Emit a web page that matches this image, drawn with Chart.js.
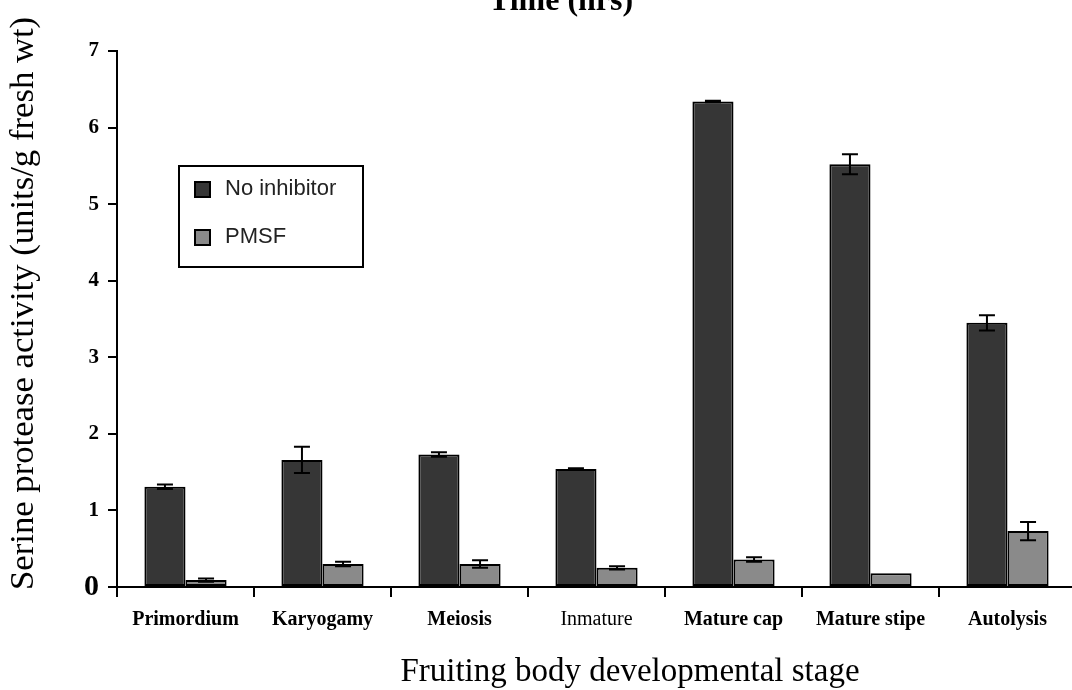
<!DOCTYPE html>
<html>
<head>
<meta charset="utf-8">
<script src="https://cdn.jsdelivr.net/npm/chart.js@4.4.0/dist/chart.umd.min.js"></script>
<style>
  html, body { margin: 0; padding: 0; background: #fff; overflow: hidden; }
  #wrap { width: 1076px; height: 690px; }
</style>
</head>
<body>
<div id="wrap"><canvas id="proteaseChart" width="1076" height="690"></canvas></div>
<script>
  const STAGES = ['Primordium', 'Karyogamy', 'Meiosis', 'Inmature', 'Mature cap', 'Mature stipe', 'Autolysis'];
  const NO_INHIBITOR     = [1.31, 1.66, 1.73, 1.54, 6.34, 5.52, 3.45];
  const NO_INHIBITOR_ERR = [0.03, 0.17, 0.03, 0.01, 0.01, 0.13, 0.10];
  const PMSF             = [0.09, 0.30, 0.30, 0.25, 0.36, 0.18, 0.73];
  const PMSF_ERR         = [0.02, 0.03, 0.05, 0.02, 0.03, 0.00, 0.12];
  const Y_TICKS          = [0, 1, 2, 3, 4, 5, 6, 7];

  const DARK  = '#363636';
  const GREY  = '#8a8a8a';
  const INK   = '#000000';
  const SERIF = "'Liberation Serif', 'Times New Roman', serif";
  const SANS  = "'Liberation Sans', Arial, sans-serif";

  const ERRORS = [NO_INHIBITOR_ERR, PMSF_ERR];

  /* error bars, legend box and the titles */
  const extras = {
    id: 'extras',
    afterDatasetsDraw(chart) {
      const ctx = chart.ctx;
      const y = chart.scales.y;
      ctx.save();
      ctx.strokeStyle = INK;
      ctx.lineWidth = 2;
      chart.data.datasets.forEach(function (ds, i) {
        const meta = chart.getDatasetMeta(i);
        meta.data.forEach(function (bar, j) {
          const e = ERRORS[i][j];
          if (!e) return;
          const top = y.getPixelForValue(ds.data[j] + e);
          const bot = y.getPixelForValue(ds.data[j] - e);
          ctx.beginPath();
          ctx.moveTo(bar.x, top); ctx.lineTo(bar.x, bot);
          ctx.moveTo(bar.x - 8, top); ctx.lineTo(bar.x + 8, top);
          ctx.moveTo(bar.x - 8, bot); ctx.lineTo(bar.x + 8, bot);
          ctx.stroke();
        });
      });
      ctx.restore();
    },
    afterDraw(chart) {
      const ctx = chart.ctx;
      ctx.save();

      // legend
      ctx.strokeStyle = INK;
      ctx.lineWidth = 2;
      ctx.strokeRect(179, 166, 184, 101);
      ctx.font = '22px ' + SANS;
      ctx.textBaseline = 'middle';
      ctx.textAlign = 'left';
      chart.data.datasets.forEach(function (ds, i) {
        const cy = 189 + i * 48;
        ctx.fillStyle = ds.backgroundColor;
        ctx.fillRect(195, cy - 7, 15, 15);
        ctx.lineWidth = 2;
        ctx.strokeRect(195, cy - 7, 15, 15);
        ctx.fillStyle = '#222';
        ctx.fillText(ds.label, 225, cy);
      });

      // top title (cut off by the page edge)
      ctx.fillStyle = '#000';
      ctx.textAlign = 'center';
      ctx.textBaseline = 'alphabetic';
      ctx.font = 'bold 32px ' + SERIF;
      ctx.fillText('Time (hrs)', 561, 10);

      // x axis title
      ctx.font = '33px ' + SERIF;
      ctx.fillText('Fruiting body developmental stage', 630, 681);

      // y axis title
      ctx.font = '34.7px ' + SERIF;
      ctx.translate(24, 590);
      ctx.rotate(-Math.PI / 2);
      ctx.textAlign = 'left';
      ctx.textBaseline = 'middle';
      ctx.fillText('Serine protease activity (units/g fresh wt)', 0, 0);
      ctx.restore();
    }
  };

  new Chart(document.getElementById('proteaseChart'), {
    type: 'bar',
    data: {
      labels: STAGES,
      datasets: [{
        label: 'No inhibitor',
        data: NO_INHIBITOR,
        backgroundColor: DARK,
        borderColor: INK,
        borderWidth: 2,
        borderSkipped: false,
        categoryPercentage: 0.6,
        barPercentage: 1.0
      }, {
        label: 'PMSF',
        data: PMSF,
        backgroundColor: GREY,
        borderColor: INK,
        borderWidth: 2,
        borderSkipped: false,
        categoryPercentage: 0.6,
        barPercentage: 1.0
      }]
    },
    options: {
      responsive: false,
      animation: false,
      layout: { padding: { top: 51, left: 0, right: 0, bottom: 0 } },
      plugins: {
        legend: { display: false },
        tooltip: { enabled: false }
      },
      scales: {
        x: {
          afterFit: function (s) { s.height = 103; },
          border: { color: INK, width: 2 },
          grid: { offset: true, drawOnChartArea: false, drawTicks: true, tickLength: 10, color: INK, lineWidth: 2 },
          ticks: {
            color: '#000',
            padding: 11,
            maxRotation: 0,
            autoSkip: false,
            font: function (c) {
              return { family: SERIF, size: 20, weight: c.index === 3 ? 'normal' : 'bold' };
            }
          }
        },
        y: {
          min: 0,
          max: 7,
          afterFit: function (s) { s.width = 117; },
          afterBuildTicks: function (s) { s.ticks = Y_TICKS.map(function (v) { return { value: v }; }); },
          border: { color: INK, width: 2 },
          grid: { drawOnChartArea: false, drawTicks: true, tickLength: 9, color: INK, lineWidth: 2 },
          ticks: {
            color: '#000',
            padding: 9,
            font: function (c) {
              return c.tick && c.tick.value === 0
                ? { family: SERIF, size: 30, weight: 'bold' }
                : { family: SERIF, size: 21, weight: 'bold' };
            }
          }
        }
      }
    },
    plugins: [extras]
  });
</script>
</body>
</html>
